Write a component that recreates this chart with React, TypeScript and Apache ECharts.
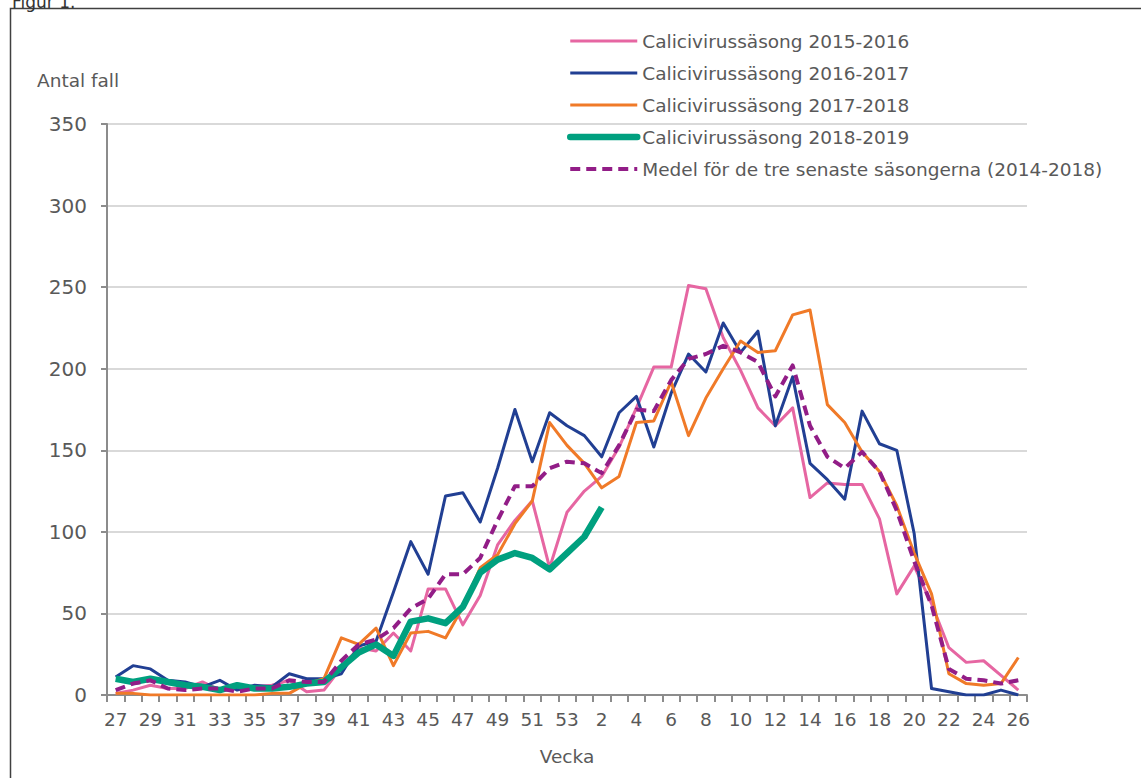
import React, { useEffect, useRef } from "react";
import * as echarts from "echarts";

const weeks: string[] = [
  "27","28","29","30","31","32","33","34","35","36","37","38","39","40","41","42","43","44","45","46","47","48","49","50","51","52","53",
  "1","2","3","4","5","6","7","8","9","10","11","12","13","14","15","16","17","18","19","20","21","22","23","24","25","26",
];

const season1516: number[] = [
  1, 3, 6, 4, 4, 8, 3, 4, 5, 6, 9, 2, 3, 17, 29, 27, 38, 27, 65, 65, 43, 61, 92, 107, 119, 78, 112,
  125, 134, 152, 176, 201, 201, 251, 249, 219, 199, 176, 165, 176, 121, 130, 129, 129, 108, 62, 79, 56, 29, 20, 21, 12, 3,
];

const season1617: number[] = [
  11, 18, 16, 9, 8, 5, 9, 3, 6, 5, 13, 10, 10, 13, 30, 33, 63, 94, 74, 122, 124, 106, 139, 175, 143, 173, 165,
  159, 146, 173, 183, 152, 185, 209, 198, 228, 210, 223, 165, 195, 142, 132, 120, 174, 154, 150, 99, 4, 2, 0, 0, 3, 0,
];

const season1718: number[] = [
  1, 1, 0, 0, 0, 0, 0, 0, 0, 1, 1, 7, 10, 35, 31, 41, 18, 38, 39, 35, 54, 78, 86, 105, 119, 167, 153,
  142, 127, 134, 167, 168, 192, 159, 182, 200, 217, 210, 211, 233, 236, 178, 167, 149, 137, 116, 87, 62, 13, 7, 6, 7, 23,
];

const season1819: (number | null)[] = [
  10, 8, 10, 8, 6, 5, 3, 6, 4, 4, 5, 7, 8, 17, 26, 31, 24, 45, 47, 44, 54, 75, 83, 87, 84, 77, 87,
  97, 115, null, null, null, null, null, null, null, null, null, null, null, null, null, null, null, null, null, null, null, null, null, null, null, null,
];

const meanThree: number[] = [
  3, 7, 9, 4, 3, 4, 4, 2, 4, 4, 9, 8, 8, 21, 31, 34, 41, 53, 59, 74, 74, 84, 107, 128, 128, 139, 143,
  142, 136, 153, 175, 174, 193, 206, 209, 214, 210, 204, 183, 202, 165, 146, 139, 149, 137, 113, 82, 55, 16, 10, 9, 7, 9,
];

const seriesNames: string[] = [
  "Calicivirussäsong 2015-2016",
  "Calicivirussäsong 2016-2017",
  "Calicivirussäsong 2017-2018",
  "Calicivirussäsong 2018-2019",
  "Medel för de tre senaste säsongerna (2014-2018)",
];

const seriesColors: string[] = ["#e666a2", "#213f93", "#f07a28", "#00a07f", "#921d87"];
const seriesWidths: number[] = [3, 3, 3, 6.5, 4];

const FONT = "DejaVu Sans";
const TEXT = "#595959";
const DASH = [10, 6];

export default function App() {
  const ref = useRef<HTMLDivElement>(null);

  useEffect(() => {
    if (!ref.current) return;
    const chart = echarts.init(ref.current, null, { renderer: "svg" });
    const mk = (i: number, data: (number | null)[], dash?: number[]) => ({
      name: seriesNames[i],
      type: "line",
      data,
      symbol: "none",
      showSymbol: false,
      connectNulls: false,
      lineStyle: { color: seriesColors[i], width: seriesWidths[i], type: dash ? dash : "solid", cap: "butt", join: "round" },
      itemStyle: { color: seriesColors[i] },
      z: 2,
    });
    chart.setOption({
      animation: false,
      backgroundColor: "#ffffff",
      textStyle: { fontFamily: FONT },
      grid: { left: 107, right: 114, top: 124, bottom: 83, containLabel: false },
      legend: {
        orient: "vertical",
        left: 567,
        top: 30,
        padding: 0,
        itemWidth: 67,
        itemHeight: 3,
        itemGap: 10,
        itemStyle: { opacity: 0 },
        textStyle: { fontFamily: FONT, fontSize: 18.5, color: TEXT, lineHeight: 22 },
        data: seriesNames.map((n, i) => ({
          name: n,
          lineStyle: {
            color: seriesColors[i],
            width: seriesWidths[i],
            type: i === 4 ? DASH : "solid",
            cap: i === 3 ? "round" : "butt",
          },
        })),
      },
      xAxis: {
        type: "category",
        data: weeks,
        boundaryGap: true,
        name: "Vecka",
        nameLocation: "middle",
        nameGap: 52,
        nameTextStyle: { fontFamily: FONT, fontSize: 18.5, color: TEXT },
        axisLine: { show: true, lineStyle: { color: "#8c8c8c", width: 2 } },
        axisTick: { show: true, interval: 0, alignWithLabel: false, length: 7, lineStyle: { color: "#8c8c8c", width: 2 } },
        axisLabel: { interval: 1, margin: 15, fontFamily: FONT, fontSize: 18.5, color: TEXT },
        splitLine: { show: false },
      },
      yAxis: {
        type: "value",
        min: 0,
        max: 350,
        interval: 50,
        axisLine: { show: true, lineStyle: { color: "#8c8c8c", width: 2 } },
        axisTick: { show: true, length: 6, lineStyle: { color: "#8c8c8c", width: 2 } },
        axisLabel: { margin: 20, fontFamily: FONT, fontSize: 20, color: TEXT },
        splitLine: { show: true, lineStyle: { color: "#d9d9d9", width: 2 } },
      },
      graphic: [
        {
          type: "rect",
          shape: { x: 10.5, y: 8.5, width: 1300, height: 900 },
          style: { fill: "none", stroke: "#404040", lineWidth: 1.5 },
          silent: true,
        },
        {
          type: "text",
          x: 12,
          y: 2,
          style: { text: "Figur 1.", fontFamily: FONT, fontSize: 17, fill: "#333333", verticalAlign: "middle" },
        },
        {
          type: "text",
          x: 37,
          y: 80,
          style: { text: "Antal fall", fontFamily: FONT, fontSize: 18.5, fill: TEXT, verticalAlign: "middle" },
        },
      ],
      series: [
        mk(0, season1516),
        mk(1, season1617),
        mk(2, season1718),
        mk(3, season1819),
        mk(4, meanThree, DASH),
      ],
    });
    return () => chart.dispose();
  }, []);

  return (
    <div
      ref={ref}
      style={{ position: "absolute", left: 0, top: 0, width: 1141, height: 778 }}
    />
  );
}
